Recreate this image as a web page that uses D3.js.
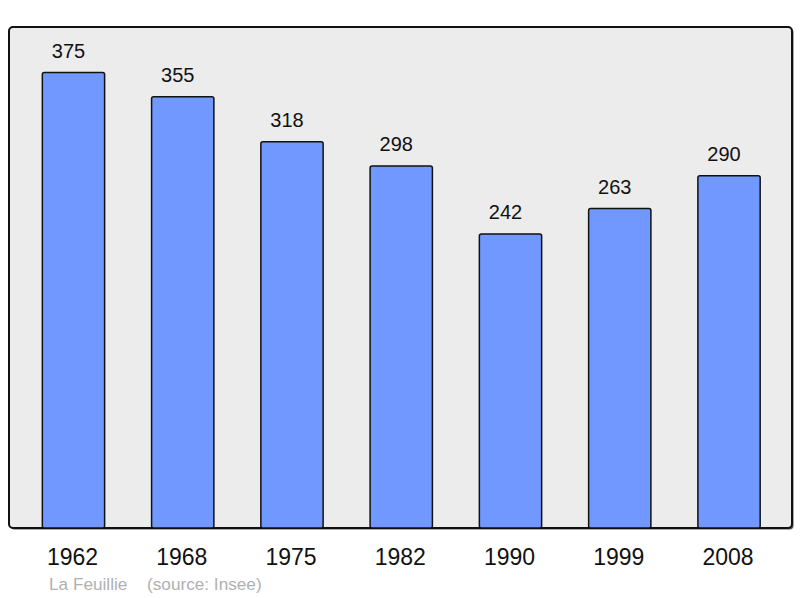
<!DOCTYPE html>
<html>
<head>
<meta charset="utf-8">
<script src="https://cdn.jsdelivr.net/npm/d3@7"></script>
<style>
  body { margin: 0; background: #fff; }
  text { font-family: "Liberation Sans", Arial, sans-serif; }
</style>
</head>
<body>
<svg id="chart" width="800" height="598"></svg>
<script>
// population by census year
const years = ["1962", "1968", "1975", "1982", "1990", "1999", "2008"];
const population = [375, 355, 318, 298, 242, 263, 290];
const place = "La Feuillie";
const source = "(source: Insee)";

const svg = d3.select("#chart");
const panel = { left: 9, top: 27, right: 792, bottom: 528 };

// light grey panel with soft shadow
svg.append("rect")
    .attr("x", panel.left + 1.5).attr("y", panel.top + 1.5)
    .attr("width", panel.right - panel.left).attr("height", panel.bottom - panel.top)
    .attr("rx", 4).attr("fill", "#555");
svg.append("rect")
    .attr("x", panel.left).attr("y", panel.top)
    .attr("width", panel.right - panel.left).attr("height", panel.bottom - panel.top)
    .attr("rx", 4).attr("fill", "#ececec").attr("stroke", "#111").attr("stroke-width", 2);

const x = d3.scaleBand().domain(years).range([18.3, 784.2]).paddingInner(0.43).paddingOuter(0.22);
const y = d3.scaleLinear().domain([0, 412.5]).range([panel.bottom, panel.top]);

const data = years.map((yr, i) => ({ year: yr, value: population[i] }));

svg.append("g").selectAll("rect").data(data).enter().append("rect")
    .attr("x", d => x(d.year))
    .attr("y", d => y(d.value))
    .attr("width", x.bandwidth())
    .attr("height", d => y(0) - y(d.value))
    .attr("rx", 2)
    .attr("fill", "#7098ff")
    .attr("stroke", "#111")
    .attr("stroke-width", 1.5);

// value labels sit a little left of bar centre, like the original
svg.append("g").selectAll("text").data(data).enter().append("text")
    .attr("x", d => x(d.year) + x.bandwidth() / 2 - 5)
    .attr("y", d => y(d.value) - 15)
    .attr("text-anchor", "middle")
    .attr("font-size", 20)
    .attr("fill", "#111")
    .text(d => d.value);

svg.append("g").selectAll("text").data(data).enter().append("text")
    .attr("x", d => x(d.year) + x.bandwidth() / 2 - 1)
    .attr("y", 565)
    .attr("text-anchor", "middle")
    .attr("font-size", 23)
    .attr("fill", "#111")
    .text(d => d.year);

svg.append("text")
    .attr("x", 49).attr("y", 590)
    .attr("font-size", 17.2)
    .attr("fill", "#b0b0b0")
    .text(place);
svg.append("text")
    .attr("x", 147).attr("y", 590)
    .attr("font-size", 17.2)
    .attr("fill", "#b0b0b0")
    .text(source);
</script>
</body>
</html>
